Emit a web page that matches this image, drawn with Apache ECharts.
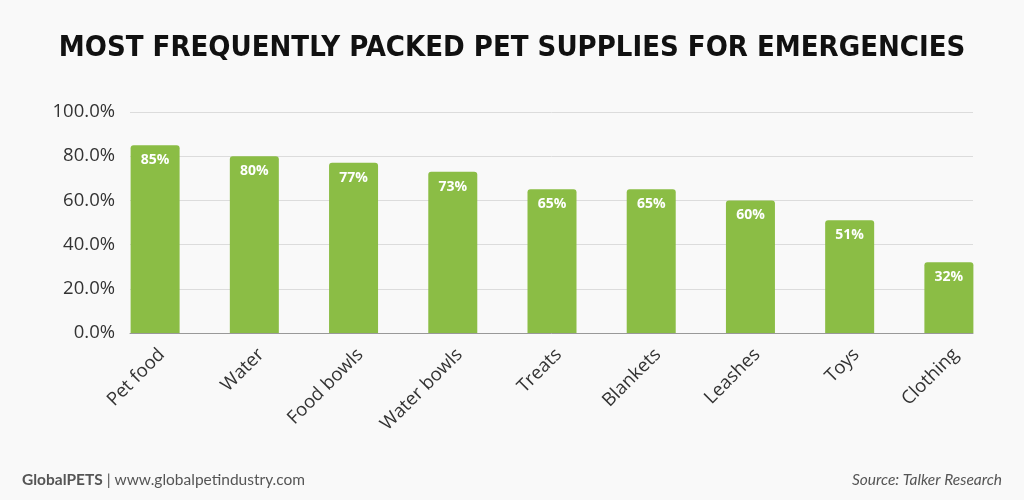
<!DOCTYPE html>
<html>
<head>
<meta charset="utf-8">
<script src="https://cdn.jsdelivr.net/npm/echarts@6/dist/echarts.min.js"></script>
<style>
html,body{margin:0;padding:0;background:#f9f9f9;}
#main{width:1024px;height:500px;}
</style>
</head>
<body>
<div id="main"></div>
<script>
const categories = ["Pet food","Water","Food bowls","Water bowls","Treats","Blankets","Leashes","Toys","Clothing"];
const values = [85,80,77,73,65,65,60,51,32];
const yTicks = [0,20,40,60,80,100];

const chart = echarts.init(document.getElementById('main'));
const option = {
  backgroundColor:'#f9f9f9',
  title:[
    {text:'MOST FREQUENTLY PACKED PET SUPPLIES FOR EMERGENCIES', left:'center', top:29,
     textStyle:{fontFamily:'DejaVu Sans Condensed, Roboto Condensed, Roboto', fontWeight:'bold', fontSize:29, color:'#111'}},
    {text:'{b|GlobalPETS} | www.globalpetindustry.com', left:17, top:467,
     textStyle:{fontFamily:'Lato', fontSize:15.5, color:'#555', fontWeight:'normal',
       rich:{b:{fontFamily:'Lato', fontSize:15.5, color:'#555', fontWeight:'bold'}}}},
    {text:'Source: Talker Research', right:17, top:467,
     textStyle:{fontFamily:'Lato', fontSize:15.5, color:'#555', fontWeight:'normal', fontStyle:'italic'}}
  ],
  grid:[
    {left:105.5, right:25.5, top:112, bottom:167},
    {left:130, right:51, top:112, bottom:167}
  ],
  xAxis:[
    {type:'category', gridIndex:0, data:categories,
     axisLine:{show:false}, axisTick:{show:false},
     axisLabel:{rotate:45, margin:12, verticalAlign:'top', fontFamily:'Open Sans', fontSize:18.5, color:'#333'}},
    {type:'value', gridIndex:1, min:0, max:1, show:true,
     axisLine:{show:true, lineStyle:{color:'#999', width:1}}, axisTick:{show:false},
     axisLabel:{show:false}, splitLine:{show:false}}
  ],
  yAxis:[
    {type:'value', gridIndex:0, min:0, max:100, interval:20, show:false, splitLine:{show:false}},
    {type:'value', gridIndex:1, min:0, max:100, interval:20,
     axisLine:{show:false}, axisTick:{show:false},
     axisLabel:{margin:15, fontFamily:'Open Sans', fontSize:18.5, color:'#333',
       formatter:v=>v.toFixed(1)+'%'},
     splitLine:{lineStyle:{color:'#dcdcdc', width:1}}}
  ],
  series:[
    {type:'bar', xAxisIndex:0, yAxisIndex:0, data:values, barWidth:49, z:5,
     itemStyle:{color:'#8bbd45', borderRadius:[3,3,0,0]},
     label:{show:true, position:'insideTop', distance:8, color:'#fff', fontFamily:'Open Sans',
       fontWeight:'bold', fontSize:14, formatter:p=>p.value+'%'}}
  ]
};
chart.setOption(option);
</script>
</body>
</html>
